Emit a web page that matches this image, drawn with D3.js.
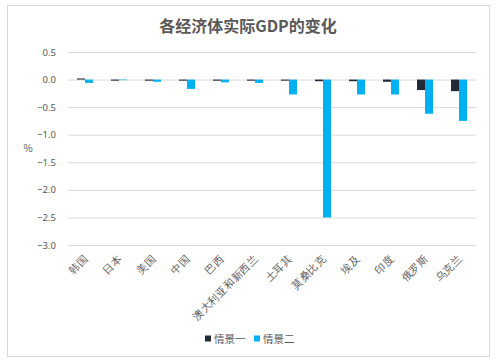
<!DOCTYPE html>
<html lang="zh">
<head>
<meta charset="UTF-8">
<script src="https://d3js.org/d3.v7.min.js"></script>
<style>
  body { margin: 0; background: #fff; font-family: "Noto Sans CJK SC", "Noto Sans", sans-serif; }
  svg { display: block; }
  .tick text { fill: #595959; }
</style>
</head>
<body>
<svg width="500" height="362"></svg>
<script>
const categories = ["韩国", "日本", "美国", "中国", "巴西", "澳大利亚和新西兰", "土耳其", "莫桑比克", "埃及", "印度", "俄罗斯", "乌克兰"];
const scenario1 = [0.02, -0.02, -0.02, -0.02, -0.02, -0.02, -0.02, -0.03, -0.03, -0.04, -0.19, -0.21];
const scenario2 = [-0.06, -0.01, -0.04, -0.17, -0.05, -0.06, -0.27, -2.5, -0.27, -0.27, -0.62, -0.75];
const seriesNames = ["情景一", "情景二"];
const seriesColors = ["#222a35", "#00b0f0"];
const yTicks = [0.5, 0, -0.5, -1, -1.5, -2, -2.5, -3];

const svg = d3.select("svg");

// chart frame
svg.append("rect")
  .attr("x", 7.5).attr("y", 5.5)
  .attr("width", 482).attr("height", 351)
  .attr("fill", "#fff").attr("stroke", "#d9d9d9");

svg.append("text")
  .attr("x", 248).attr("y", 32)
  .attr("text-anchor", "middle")
  .attr("font-size", 16).attr("font-weight", "bold")
  .attr("fill", "#595959")
  .text("各经济体实际GDP的变化");

const margin = {left: 68, right: 476, top: 52, bottom: 245};

const x = d3.scaleBand().domain(categories).range([margin.left, margin.right]);
const y = d3.scaleLinear().domain([-3, 0.5]).range([margin.bottom, margin.top]);

// gridlines
svg.append("g")
  .selectAll("line")
  .data(yTicks)
  .join("line")
  .attr("x1", margin.left).attr("x2", margin.right)
  .attr("y1", d => y(d) + 0.5).attr("y2", d => y(d) + 0.5)
  .attr("stroke", "#d9d9d9");

// y axis labels
const yAxis = svg.append("g")
  .attr("transform", `translate(${margin.left},0)`)
  .call(d3.axisLeft(y).tickValues(yTicks).tickFormat(d3.format(".1f")).tickSize(0).tickPadding(12));
yAxis.select(".domain").remove();
yAxis.selectAll("text").attr("font-size", 9.5).attr("font-family", "Noto Sans, sans-serif");

svg.append("text")
  .attr("x", 28).attr("y", 152)
  .attr("text-anchor", "middle")
  .attr("font-size", 10).attr("fill", "#595959")
  .text("%");

// bars
const barW = 8;
const series = [scenario1, scenario2];
series.forEach((vals, si) => {
  svg.append("g")
    .selectAll("rect")
    .data(vals)
    .join("rect")
    .attr("x", (d, i) => x(categories[i]) + x.bandwidth() / 2 - barW + si * barW)
    .attr("y", d => Math.min(y(d), y(0)))
    .attr("width", barW)
    .attr("height", d => Math.abs(y(d) - y(0)))
    .attr("fill", seriesColors[si]);
});

// x labels
const xAxis = svg.append("g")
  .attr("transform", `translate(0,${margin.bottom})`)
  .call(d3.axisBottom(x).tickSize(0).tickPadding(0));
xAxis.select(".domain").remove();
xAxis.selectAll("text")
  .attr("font-size", 10.5)
  .attr("text-anchor", "end")
  .attr("dy", 0)
  .attr("transform", "translate(4,14) rotate(-45)");

// legend
const legend = svg.append("g").attr("transform", "translate(205,339)");
seriesNames.forEach((name, i) => {
  const g = legend.append("g").attr("transform", `translate(${i * 49},0)`);
  g.append("rect").attr("x", 0).attr("y", -3.5).attr("width", 6).attr("height", 6).attr("fill", seriesColors[i]);
  g.append("text").attr("x", 9).attr("y", 4).attr("font-size", 10.5).attr("fill", "#595959").text(name);
});
</script>
</body>
</html>
